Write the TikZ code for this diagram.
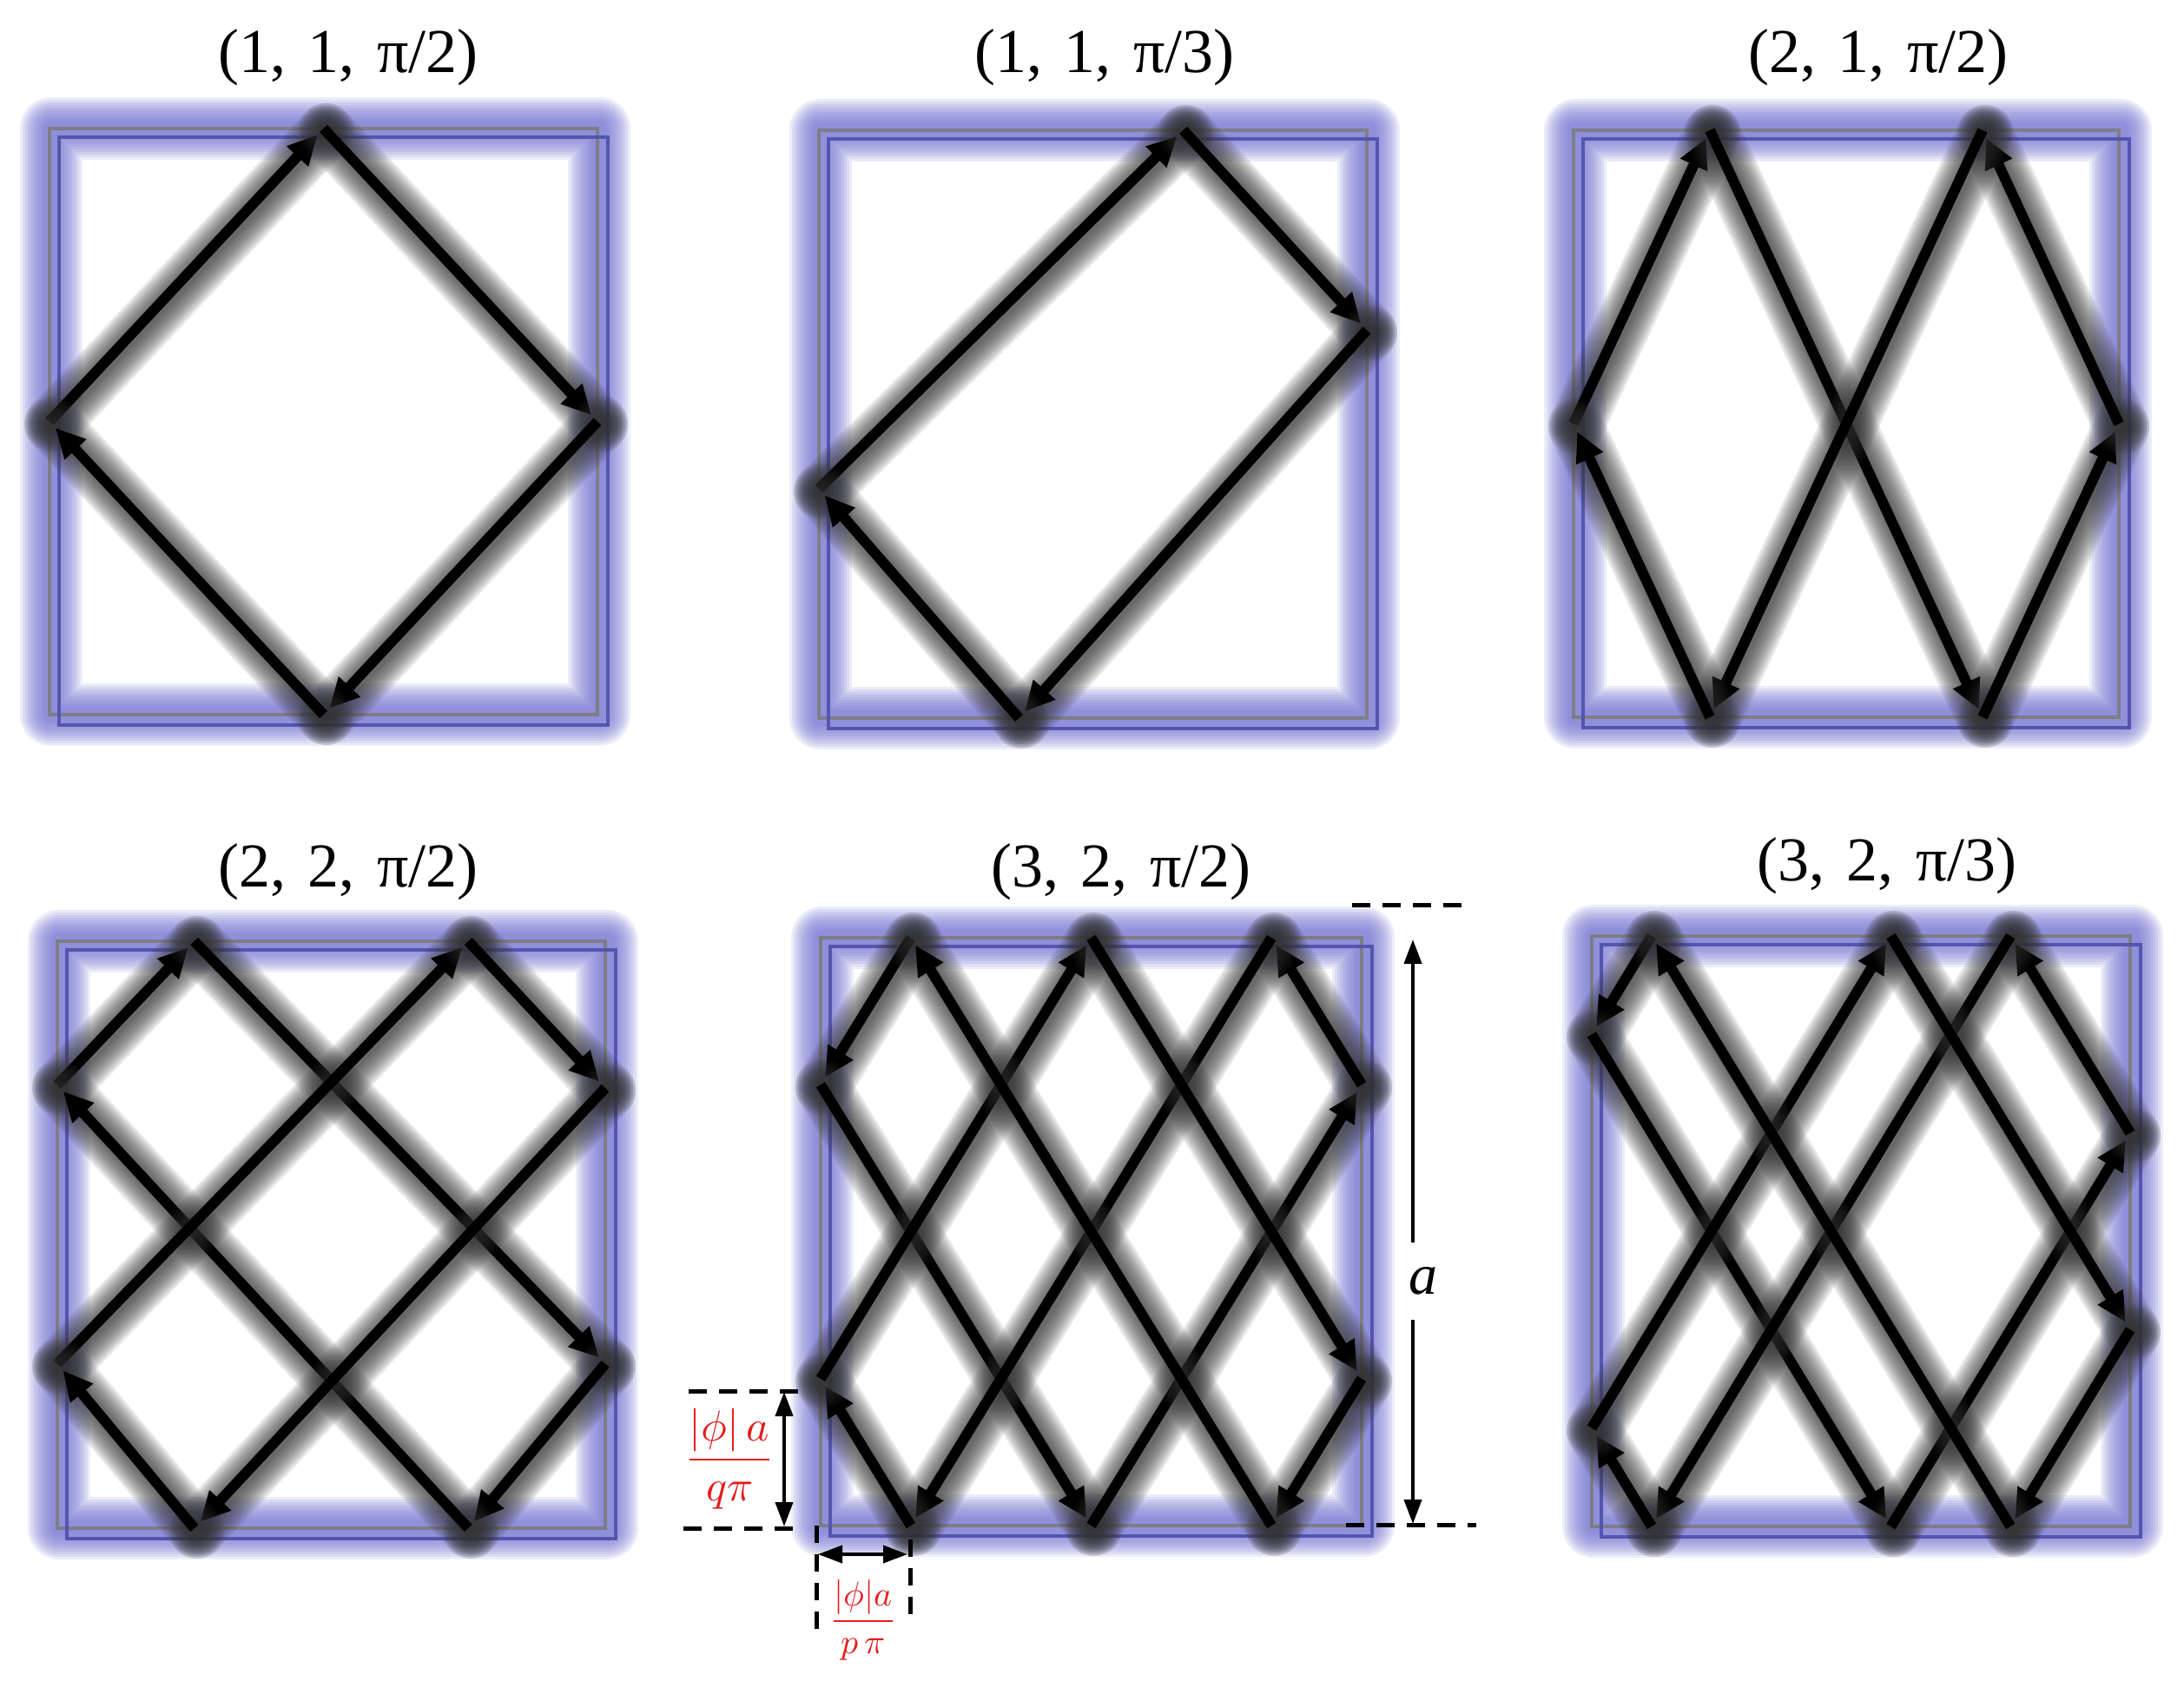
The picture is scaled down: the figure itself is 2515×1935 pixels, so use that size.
\documentclass[tikz,border=0pt]{standalone}
\usepackage{fontspec}
\usepackage{unicode-math}
\setmainfont{Liberation Serif}
\usetikzlibrary{arrows.meta,calc}
\definecolor{glowblue}{RGB}{110,110,210}
\definecolor{thingray}{RGB}{125,125,135}
\definecolor{thinblue}{RGB}{85,85,175}
\definecolor{shadowgray}{RGB}{50,50,50}
\definecolor{labelred}{RGB}{228,28,28}
\newcommand\tsp{\hspace{0.35em}}
\tikzset{
  traj/.style={line width=12pt, draw=black, -{Triangle[width=32pt,length=34pt]}, shorten >=10pt},
  dimarrow/.style={line width=4pt, {Triangle[width=20pt,length=28pt]}-{Triangle[width=20pt,length=28pt]}},
  dimdash/.style={line width=5pt, dash pattern=on 21pt off 14pt},
  paneltitle/.style={font=\fontsize{72}{84}\selectfont, anchor=base, inner sep=0pt},
  redlabel/.style={text=labelred, inner sep=0pt},
}
\newcommand\panelbox[4]{%
  \foreach \w in {72,66,60,54,48,42,36,30,24,18}{%
    \draw[line width=\w pt, draw=glowblue, opacity=0.13, line join=round] (#1+2,#2) rectangle ++(#3,#4);}
  \draw[line width=4pt, draw=thingray] (#1,#2) rectangle ++(#3,#4);
  \draw[line width=4pt, draw=thinblue] (#1+11,#2+10) rectangle ++(#3+1,#4+2);
}
\newcommand\trajseg[2]{%
  \foreach \w in {64,59,54,49,44,39,34,29,24,19,14}{%
    \draw[line width=\w pt, draw=shadowgray, opacity=0.11, line cap=round] ($(#1)+(3pt,-3pt)$) -- ($(#2)+(3pt,-3pt)$);}
  \draw[traj] (#1) -- (#2);
}
\begin{document}
\begin{tikzpicture}[x=1pt,y=-1pt]
\useasboundingbox (0,0) rectangle (2515,1935);
\fill[white] (0,0) rectangle (2515,1935);

% ---------- boxes ----------
\panelbox{57}{148}{631}{675}
\panelbox{943}{150}{631}{677}
\panelbox{1812}{150}{628}{676}
\panelbox{66}{1084}{631}{676}
\panelbox{945}{1080}{623}{677}
\panelbox{1833}{1078}{620}{680}

% ---------- bounce points ----------
\begin{scope}[shift={(57,148)}, x=631pt, y=-675pt]
  \coordinate (AL) at (0,0.5); \coordinate (AT) at (0.5,0);
  \coordinate (AR) at (1,0.5); \coordinate (AB) at (0.5,1);
\end{scope}
\begin{scope}[shift={(943,150)}, x=631pt, y=-677pt]
  \coordinate (BL) at (0,0.61); \coordinate (BT) at (0.665,0);
  \coordinate (BR) at (1,0.34); \coordinate (BB) at (0.365,1);
\end{scope}
\begin{scope}[shift={(1812,150)}, x=628pt, y=-676pt]
  \coordinate (CL) at (0,0.5); \coordinate (CR) at (1,0.5);
  \coordinate (CT1) at (0.25,0); \coordinate (CT2) at (0.75,0);
  \coordinate (CB1) at (0.25,1); \coordinate (CB2) at (0.75,1);
\end{scope}
\begin{scope}[shift={(66,1084)}, x=631pt, y=-676pt]
  \coordinate (DT1) at (0.25,0); \coordinate (DT2) at (0.75,0);
  \coordinate (DB1) at (0.25,1); \coordinate (DB2) at (0.75,1);
  \coordinate (DL1) at (0,0.245); \coordinate (DL2) at (0,0.72);
  \coordinate (DR1) at (1,0.25); \coordinate (DR2) at (1,0.72);
\end{scope}
\begin{scope}[shift={(945,1080)}, x=623pt, y=-677pt]
  \coordinate (ET1) at (1/6,0); \coordinate (ET2) at (1/2,0); \coordinate (ET3) at (5/6,0);
  \coordinate (EB1) at (1/6,1); \coordinate (EB2) at (1/2,1); \coordinate (EB3) at (5/6,1);
  \coordinate (EL1) at (0,1/4); \coordinate (EL2) at (0,3/4);
  \coordinate (ER1) at (1,1/4); \coordinate (ER2) at (1,3/4);
\end{scope}
\begin{scope}[shift={(1833,1078)}, x=620pt, y=-680pt]
  \coordinate (FT1) at (1/9,0); \coordinate (FT2) at (5/9,0); \coordinate (FT3) at (7/9,0);
  \coordinate (FB1) at (1/9,1); \coordinate (FB2) at (5/9,1); \coordinate (FB3) at (7/9,1);
  \coordinate (FL1) at (0,1/6); \coordinate (FL2) at (0,5/6);
  \coordinate (FR1) at (1,1/3); \coordinate (FR2) at (1,2/3);
\end{scope}

% ---------- trajectories ----------
\trajseg{AL}{AT}\trajseg{AT}{AR}\trajseg{AR}{AB}\trajseg{AB}{AL}
\trajseg{BL}{BT}\trajseg{BT}{BR}\trajseg{BR}{BB}\trajseg{BB}{BL}
\trajseg{CL}{CT1}\trajseg{CT1}{CB2}\trajseg{CB2}{CR}\trajseg{CR}{CT2}\trajseg{CT2}{CB1}\trajseg{CB1}{CL}
\trajseg{DL1}{DT1}\trajseg{DT1}{DR2}\trajseg{DR2}{DB2}\trajseg{DB2}{DL1}
\trajseg{DL2}{DT2}\trajseg{DT2}{DR1}\trajseg{DR1}{DB1}\trajseg{DB1}{DL2}
\trajseg{ET1}{EL1}\trajseg{EL1}{EB2}\trajseg{EB2}{ER1}\trajseg{ER1}{ET3}\trajseg{ET3}{EB1}
\trajseg{EB1}{EL2}\trajseg{EL2}{ET2}\trajseg{ET2}{ER2}\trajseg{ER2}{EB3}\trajseg{EB3}{ET1}
\trajseg{FT1}{FL1}\trajseg{FL1}{FB2}\trajseg{FB2}{FR1}\trajseg{FR1}{FT3}\trajseg{FT3}{FB1}
\trajseg{FB1}{FL2}\trajseg{FL2}{FT2}\trajseg{FT2}{FR2}\trajseg{FR2}{FB3}\trajseg{FB3}{FT1}

% ---------- titles ----------
\node[paneltitle] (t1) at (401,83) {(1,\tsp 1,\tsp π/2)};
\node[paneltitle] (t2) at (1272,83) {(1,\tsp 1,\tsp π/3)};
\node[paneltitle] (t3) at (2163,83) {(2,\tsp 1,\tsp π/2)};
\node[paneltitle] (t4) at (401,1021) {(2,\tsp 2,\tsp π/2)};
\node[paneltitle] (t5) at (1291,1021) {(3,\tsp 2,\tsp π/2)};
\node[paneltitle] (t6) at (2173,1014) {(3,\tsp 2,\tsp π/3)};

% ---------- dimension a ----------
\coordinate (aTL) at (1557,1042); \coordinate (aTR) at (1692,1042);
\coordinate (aBL) at (1550,1756); \coordinate (aBR) at (1700,1756);
\coordinate (aUp) at (1627,1082); \coordinate (aDn) at (1627,1755);
\draw[dimdash] (aTL) -- (aTR);
\draw[dimdash] (aBL) -- (aBR);
\draw[dimarrow] (aUp) -- (aDn);
\node[fill=white, inner sep=0pt, minimum height=89pt, minimum width=40pt, font=\fontsize{66}{70}\selectfont\itshape] (alab) at (1639,1475) {a};

% ---------- dimension |phi|a/(q pi) ----------
\coordinate (qTL) at (793,1602); \coordinate (qTR) at (925,1602);
\coordinate (qBL) at (787,1760); \coordinate (qBR) at (920,1760);
\coordinate (qUp) at (903,1603); \coordinate (qDn) at (903,1758);
\draw[dimdash] (qTL) -- (qTR);
\draw[dimdash] (qBL) -- (qBR);
\draw[dimarrow] (qUp) -- (qDn);
\node[redlabel, font=\fontsize{50}{60}\selectfont] (qlab) at (840,1680) {$\dfrac{|\phi|\,a}{q\pi}$};

% ---------- dimension |phi|a/(p pi) ----------
\coordinate (pLT) at (940,1757); \coordinate (pLB) at (940,1882);
\coordinate (pRT) at (1048,1773); \coordinate (pRB) at (1048,1868);
\coordinate (pL) at (942,1790); \coordinate (pR) at (1045,1790);
\draw[dimdash, dash pattern=on 20pt off 13pt] (pLT) -- (pLB);
\draw[dimdash, dash pattern=on 20pt off 13pt] (pRT) -- (pRB);
\draw[dimarrow] (pL) -- (pR);
\node[redlabel, font=\fontsize{40}{48}\selectfont] (plab) at (994,1866) {$\dfrac{|\phi|a}{p\,\pi}$};
\end{tikzpicture}
\end{document}
